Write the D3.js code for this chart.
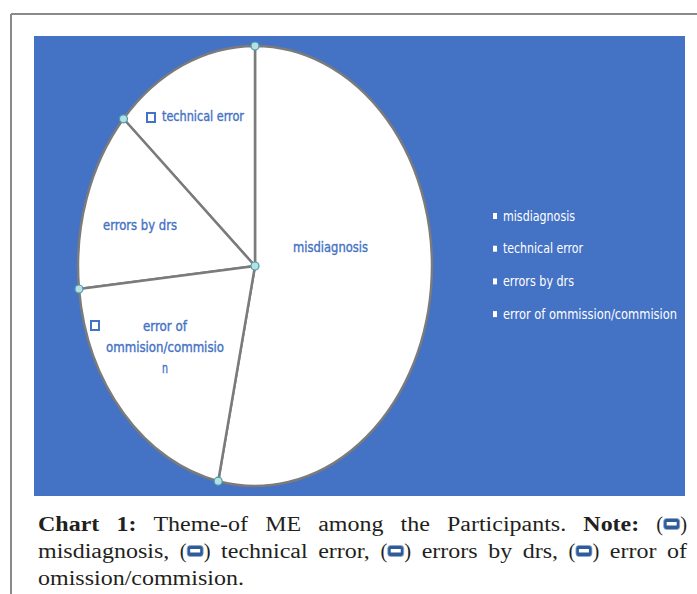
<!DOCTYPE html>
<html><head><meta charset="utf-8">
<script src="https://cdn.jsdelivr.net/npm/d3@7"></script>
<style>html,body{margin:0;padding:0;background:#fff;}svg{display:block;}</style>
</head><body>
<svg id="c" width="697" height="594"></svg>
<script>
// ---- data ----
const categories = ["misdiagnosis", "technical error", "errors by drs", "error of ommission/commision"];
const values = [16, 4, 4, 6];
const sliceLabels = [["misdiagnosis"], ["technical error"], ["errors by drs"], ["error of", "ommision/commisio", "n"]];
const captionLines = [
  [{t:"Chart", b:1}, {t:"1:", b:1}, {t:"Theme-of"}, {t:"ME"}, {t:"among"}, {t:"the"}, {t:"Participants."}, {t:"Note:", b:1}, {icon:1}],
  [{t:"misdiagnosis,"}, {icon:1}, {t:"technical"}, {t:"error,"}, {icon:1}, {t:"errors"}, {t:"by"}, {t:"drs,"}, {icon:1}, {t:"error"}, {t:"of"}],
  [{t:"omission/commision."}]
];

// ---- layout ----
const svg = d3.select("#c");
const W = 697, H = 594;
svg.append("line").attr("x1", 11).attr("x2", W).attr("y1", 14).attr("y2", 14).attr("stroke", "#8a8a8a").attr("stroke-width", 2);
svg.append("line").attr("x1", 11).attr("x2", 11).attr("y1", 14).attr("y2", H).attr("stroke", "#8a8a8a").attr("stroke-width", 2);
svg.append("rect").attr("x", 34).attr("y", 36).attr("width", 651).attr("height", 460).attr("fill", "#4472c4");

const cx = 255, cy = 266, rx = 177, ry = 220;
const total = d3.sum(values);
const a0 = 2 * Math.PI * values[0] / total;
const pie = d3.pie().sort(null).startAngle(a0).endAngle(a0 - 2 * Math.PI);
const arcs = pie(values);
const arc = d3.arc().innerRadius(0).outerRadius(rx);
const g = svg.append("g").attr("transform", `translate(${cx},${cy}) scale(1,${ry / rx})`);
g.selectAll("path").data(arcs).join("path")
  .attr("d", arc).attr("fill", "#ffffff")
  .attr("stroke", "#7b7b7b").attr("stroke-width", 2.5)
  .attr("vector-effect", "non-scaling-stroke").attr("stroke-linejoin", "round");

// vertex handles
const pts = [[cx, cy]].concat(arcs.map(d => [cx + rx * Math.sin(d.startAngle), cy - ry * Math.cos(d.startAngle)]));
svg.selectAll("circle.h").data(pts).join("circle").attr("class", "h")
  .attr("cx", d => d[0]).attr("cy", d => d[1]).attr("r", 4)
  .attr("fill", "#b4e0e6").attr("stroke", "#4d9aa8").attr("stroke-width", 1.2);

// slice labels
const labFont = "'Liberation Sans Narrow','Arial Narrow','DejaVu Sans Condensed','Liberation Sans',sans-serif";
const labPos = [
  [{x:293, y:252, w:75}],
  [{x:162, y:121, w:82}],
  [{x:103, y:230, w:74}],
  [{x:143, y:331, w:44}, {x:106, y:352, w:118}, {x:162, y:373, w:6}]
];
const markers = [null, {x:146, y:112}, null, {x:90, y:320}];
sliceLabels.forEach((lines, i) => {
  lines.forEach((s, j) => {
    const p = labPos[i][j];
    svg.append("text").attr("x", p.x).attr("y", p.y).text(s)
      .attr("font-family", labFont).attr("font-size", 14).attr("font-weight", "normal")
      .attr("fill", "#4472c4").attr("stroke", "#4472c4").attr("stroke-width", 0.35)
      .attr("textLength", p.w).attr("lengthAdjust", "spacingAndGlyphs");
  });
  if (markers[i]) {
    svg.append("rect").attr("x", markers[i].x + 1).attr("y", markers[i].y + 1).attr("width", 8).attr("height", 9)
      .attr("fill", "#fff").attr("stroke", "#4472c4").attr("stroke-width", 2);
  }
});

// legend
const legW = [72, 80, 71, 174];
const lg = svg.append("g");
categories.forEach((c, i) => {
  const y = 216 + i * 32.7;
  lg.append("rect").attr("x", 493).attr("y", y - 3).attr("width", 4).attr("height", 6).attr("fill", "#fff");
  lg.append("text").attr("x", 503).attr("y", y + 4.5).text(c)
    .attr("font-family", labFont).attr("font-size", 13.5).attr("fill", "#fff")
    .attr("textLength", legW[i]).attr("lengthAdjust", "spacingAndGlyphs");
});

// caption
const capFont = "'Liberation Serif','DejaVu Serif',serif";
const capSize = 20.5, hs = 1.17;
const cg = svg.append("g");
const left = 38, right = 687;
const baselines = [531, 558, 585];
function makeIcon(parent) {
  const grp = parent.append("g");
  const p1 = grp.append("text").text("(").attr("font-family", capFont).attr("font-size", capSize).attr("fill", "#231f20");
  const w1 = p1.node().getComputedTextLength();
  const iw = 16, ih = 11;
  grp.append("rect").attr("x", w1 + 0.5).attr("y", -12.5).attr("width", iw).attr("height", ih).attr("rx", 3)
    .attr("fill", "#2f5b9b").attr("stroke", "#8fa9cc").attr("stroke-width", 0.8);
  grp.append("rect").attr("x", w1 + 3.5).attr("y", -9).attr("width", iw - 6).attr("height", 3.5).attr("fill", "#ffffff");
  const p2 = grp.append("text").text(")").attr("x", w1 + iw + 1).attr("font-family", capFont).attr("font-size", capSize).attr("fill", "#231f20");
  const w2 = p2.node().getComputedTextLength();
  return {node: grp, w: w1 + iw + 1 + w2};
}
captionLines.forEach((toks, li) => {
  const y = baselines[li];
  const items = toks.map(tk => {
    if (tk.icon) return makeIcon(cg);
    const t = cg.append("text").text(tk.t).attr("font-family", capFont).attr("font-size", capSize)
      .attr("font-weight", tk.b ? "bold" : "normal").attr("fill", "#231f20");
    const nat = t.node().getComputedTextLength();
    const w = nat * hs;
    t.attr("textLength", w).attr("lengthAdjust", "spacingAndGlyphs");
    return {node: t, w: w};
  });
  const sum = d3.sum(items, d => d.w);
  const justify = li < captionLines.length - 1;
  const gap = justify ? (right - left - sum) / (items.length - 1) : 5;
  let x = left;
  items.forEach(it => {
    it.node.attr("transform", `translate(${x},${y})`);
    x += it.w + gap;
  });
});
</script>
</body></html>
